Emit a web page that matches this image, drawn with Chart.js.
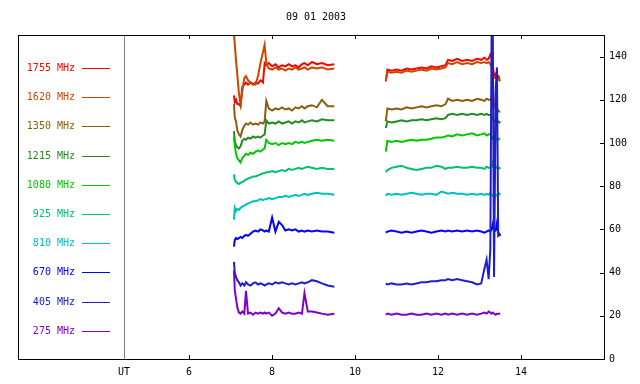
<!DOCTYPE html>
<html>
<head>
<meta charset="utf-8">
<script src="https://cdn.jsdelivr.net/npm/chart.js@4/dist/chart.umd.min.js"></script>
<style>
  html, body { margin: 0; padding: 0; background: #fff; }
  canvas { display: block; }
</style>
</head>
<body>
<canvas id="grafico" width="640" height="384"></canvas>
<script>
const title = '09 01 2003';
const bands = ['1755 MHz', '1620 MHz', '1350 MHz', '1215 MHz', '1080 MHz', '925 MHz', '810 MHz', '670 MHz', '405 MHz', '275 MHz'];
const xTicks = [6, 8, 10, 12, 14];
const yTicks = [0, 20, 40, 60, 80, 100, 120, 140];

// UT hours, morning and afternoon pieces
const utA = [7.08, 7.10, 7.13, 7.16, 7.20, 7.24, 7.28, 7.33, 7.37, 7.42, 7.48, 7.54, 7.60, 7.66, 7.72, 7.78, 7.82, 7.86, 7.92, 8.00,
             8.08, 8.16, 8.24, 8.32, 8.40, 8.48, 8.56, 8.64, 8.72, 8.78, 8.86, 8.96, 9.08, 9.20, 9.34, 9.50];
const utB = [10.74, 10.78, 10.88, 11.00, 11.12, 11.24, 11.36, 11.48, 11.60, 11.72, 11.84, 11.96, 12.08, 12.18, 12.24, 12.34, 12.46,
             12.58, 12.70, 12.82, 12.94, 13.04, 13.12, 13.17, 13.22, 13.26, 13.29, 13.32, 13.35, 13.39, 13.42, 13.45, 13.48, 13.50];

const mhz1755A = [122, 119, 120, 118, 118, 117, 126, 127, 128, 127, 128, 127, 128, 127.5, 129, 128, 137, 136, 137, 135.5,
                  136.5, 135, 136, 135.5, 136.5, 135.5, 136, 135, 136.5, 137, 136, 137.5, 136.5, 137, 136, 136.5];
const mhz1755B = [128.5, 134, 133.5, 134, 133.5, 134.5, 134, 134.5, 135, 134.5, 135.5, 135, 135.5, 136, 138.5, 138, 139,
                  138, 138.5, 138, 139, 138.5, 139.5, 138.5, 139, 141, 140, 136, 131, 132, 130.5, 131, 130, 130];
const mhz1620A = [150, 146, 138, 132, 123, 118, 124, 130, 131, 129, 128, 127.5, 127, 131, 137, 142, 145.5, 137, 134.5, 134,
                  135, 134, 134.5, 133.5, 134.5, 134, 135, 134, 134.5, 135, 134, 135, 134.5, 135, 134, 134.5];
const mhz1620B = [129, 133, 132.5, 133, 132.5, 133.5, 133, 133.5, 134, 133.5, 134.5, 134, 134.5, 135, 137, 136.5, 137.5,
                  136.5, 137, 136.5, 137.5, 137, 137.5, 137, 137.5, 136.5, 135, 131, 130, 130.5, 129.5, 130, 129, 129.5];
const mhz1350A = [118, 112, 110, 106, 104, 103, 106, 108, 109, 108.5, 109.5, 108.5, 109, 108.5, 109.5, 109, 110, 119.5, 116, 115,
                  116, 115.5, 116.5, 115.5, 116, 115, 116.5, 116, 117, 116, 117, 117.5, 116.5, 120, 117, 117];
const mhz1350B = [110, 116, 115.5, 116, 115.5, 116.5, 116, 116.5, 117, 116.5, 117, 117.5, 117, 118, 120.5, 119.5, 120,
                  119.5, 120, 119.5, 120.5, 120, 119.5, 120.5, 120, 120, 121, 126, 117, 116, 116, 115, 114.5, 114.5];
const mhz1215A = [105.5, 101, 99, 98, 97.5, 98.5, 101, 102, 101.5, 102.5, 102, 103, 102.5, 103, 102.5, 103.5, 104, 110.5, 109, 109.5,
                  109, 110, 109, 109.5, 110, 109, 110, 109.5, 110.5, 109.5, 110, 110.5, 110, 111, 110.5, 110.5];
const mhz1215B = [107, 110, 109.5, 110, 110.5, 110, 110.5, 110.5, 111, 110.5, 111, 111.5, 111, 111.5, 113, 113.5, 113,
                  113.5, 113, 113.5, 113, 113.5, 113, 113.5, 113, 113, 112, 111, 110.5, 110, 109.5, 110, 109.5, 110];
const mhz1080A = [103, 99, 95, 93, 92, 91, 93, 94, 95, 94.5, 95.5, 95, 96, 96.5, 96, 97, 97.5, 101.5, 100, 99.5,
                  100, 99, 100, 99.5, 100, 99.5, 100.5, 100, 100.5, 100, 100.5, 101, 101.5, 101, 101.5, 101];
const mhz1080B = [96, 101, 100.5, 101, 100.5, 101, 101.5, 101, 101.5, 101.5, 102, 102.5, 102.5, 103, 103.5, 103, 104,
                  103.5, 104, 104.5, 103.5, 104, 104.5, 103.5, 104, 104, 103, 102, 102.5, 101.5, 102, 101.5, 102, 102];
const mhz925A = [85.5, 83, 82, 81.5, 81, 81.5, 82, 82.5, 83, 83.5, 84, 84.5, 84.5, 85, 85.5, 86, 86, 86.5, 86.5, 87,
                 86.5, 87, 87.5, 87, 88, 87.5, 88, 88.5, 88, 88.5, 89, 88.5, 88, 88.5, 88, 88];
const mhz925B = [86.5, 87.5, 88.5, 89, 89.5, 88.5, 88, 87.5, 88, 88.5, 88.5, 89.5, 89, 88, 88.5, 88.5, 89,
                 88.5, 88.5, 89, 88.5, 88.5, 88, 89, 88.5, 88.5, 89, 91, 88, 88.5, 89, 88, 88.5, 88];
const mhz810A = [64.5, 70, 68.5, 69.5, 69, 70, 70.5, 71, 71.5, 72, 72.5, 73, 73, 73.5, 74, 73.5, 74, 74, 74.5, 74,
                 74.5, 75, 75, 75.5, 75, 75.5, 76, 75.5, 76, 76.5, 76, 76.5, 77, 76.5, 76.5, 76];
const mhz810B = [75.5, 76.5, 76, 76.5, 76, 76.5, 77, 76.5, 76, 76.5, 76.5, 76, 77.5, 77, 76.5, 77, 76.5,
                 76.5, 76, 76.5, 76, 76.5, 76, 76.5, 76, 77, 76, 75.5, 76, 75.5, 76, 76, 76.5, 76];
const mhz670A = [52, 55, 56, 55.5, 56, 56.5, 56, 57, 57.5, 57, 58, 59, 59.5, 59, 60, 59.5, 59, 59.5, 59, 65.5,
                 59, 63.5, 62, 59.5, 60, 59.5, 60, 59, 59.5, 59, 59.5, 59, 59.5, 59, 59, 58.5];
const mhz670B = [58.5, 59, 59.5, 59, 58.5, 59, 58.5, 59, 59.5, 59, 58.5, 59, 59.5, 59, 59.5, 59, 59.5,
                 59, 59.5, 59, 59.5, 59, 58.5, 59, 59.5, 59, 60, 62.5, 59, 59.5, 63, 58.5, 58, 57];
const mhz405A = [45, 40, 38, 36.5, 35.5, 34, 35, 34, 35.5, 34.5, 34, 35, 35.5, 34.5, 35, 34.5, 34, 34.5, 35, 34.5,
                 35.5, 35, 35.5, 35, 34.5, 35, 34.5, 35, 35.5, 35, 35.5, 36.5, 36, 35, 34, 33.5];
const mhz405B = [35, 34.5, 35, 34.5, 34.5, 35, 34.5, 35, 35.5, 35.5, 36, 36, 36.5, 36.5, 37, 36.5, 37,
                 36.5, 36, 35.5, 34.5, 35, 42, 46, 37, 51, 150, 150, 38, 125, 135, 57, 57.5, 57];
const mhz275A = [41, 32, 28, 24, 21.5, 21, 22, 21, 31.5, 21, 21.5, 20.5, 21.5, 21, 21.5, 21, 21.5, 21, 21.5, 20,
                 21, 23.5, 21.5, 21, 21.5, 21, 21, 21.5, 21, 30.5, 22, 22, 21.5, 21, 20.5, 21];
const mhz275B = [20.5, 21, 20.5, 21, 20.5, 20.5, 21, 20.5, 20.5, 21, 20.5, 21, 20.5, 21, 20.5, 21, 20.5,
                 21, 20.5, 21, 20.5, 21, 21.5, 21, 22, 21.5, 21, 21.5, 21, 20.5, 21, 21, 21, 21];

const seriesA = [mhz1755A, mhz1620A, mhz1350A, mhz1215A, mhz1080A, mhz925A, mhz810A, mhz670A, mhz405A, mhz275A];
const seriesB = [mhz1755B, mhz1620B, mhz1350B, mhz1215B, mhz1080B, mhz925B, mhz810B, mhz670B, mhz405B, mhz275B];

const colors = ['#ff0000', '#c84800', '#8b5e0b', '#228b22', '#00c800', '#00c070', '#00c0c0', '#0000ff', '#2020c8', '#8000c8'];
const fonte = { family: 'DejaVu Sans Mono', size: 10 };

// two pieces joined by a null so the line breaks in the gap
function montaPontos(a, b) {
  return utA.map((t, i) => ({ x: t, y: a[i] }))
    .concat([{ x: 10.1, y: null }])
    .concat(utB.map((t, i) => ({ x: t, y: b[i] })));
}

const datasets = bands.map((nome, i) => ({
  label: nome,
  data: montaPontos(seriesA[i], seriesB[i]),
  borderColor: colors[i],
  borderWidth: 2,
  pointRadius: 0,
  tension: 0,
  spanGaps: false,
  order: bands.length - i
}));

// frame, inward ticks, legend column and title
const moldura = {
  id: 'moldura',
  afterDraw(chart) {
    const { ctx, chartArea: a, scales: { x, y } } = chart;
    const painel = a.left - 106;
    ctx.save();
    ctx.lineWidth = 1;
    ctx.strokeStyle = '#808080';
    ctx.beginPath();
    ctx.moveTo(a.left + 0.5, a.top);
    ctx.lineTo(a.left + 0.5, a.bottom);
    ctx.stroke();

    ctx.strokeStyle = '#000';
    ctx.strokeRect(painel + 0.5, a.top + 0.5, a.right - painel, a.bottom - a.top);
    ctx.beginPath();
    xTicks.forEach(v => {
      const px = Math.round(x.getPixelForValue(v)) + 0.5;
      ctx.moveTo(px, a.bottom); ctx.lineTo(px, a.bottom - 4);
      ctx.moveTo(px, a.top); ctx.lineTo(px, a.top + 4);
    });
    yTicks.forEach(v => {
      const py = Math.round(y.getPixelForValue(v)) + 0.5;
      ctx.moveTo(a.right, py); ctx.lineTo(a.right - 4, py);
    });
    ctx.stroke();

    ctx.font = '10px "DejaVu Sans Mono"';
    ctx.textAlign = 'right';
    ctx.textBaseline = 'middle';
    bands.forEach((nome, i) => {
      const ly = Math.round(a.top + 33 + i * 29.2) + 0.5;
      ctx.fillStyle = colors[i];
      ctx.strokeStyle = colors[i];
      ctx.fillText(nome, a.left - 49, ly);
      ctx.beginPath();
      ctx.moveTo(a.left - 42, ly);
      ctx.lineTo(a.left - 14, ly);
      ctx.stroke();
    });

    ctx.fillStyle = '#000';
    ctx.textAlign = 'center';
    ctx.fillText(title, 316, 17);
    ctx.restore();
  }
};

new Chart(document.getElementById('grafico'), {
  type: 'line',
  data: { datasets },
  options: {
    responsive: false,
    animation: false,
    layout: { padding: { left: 124, top: 35, right: 0, bottom: 0 } },
    plugins: { legend: { display: false }, tooltip: { enabled: false } },
    scales: {
      x: {
        type: 'linear',
        min: 4.43,
        max: 16,
        grid: { display: false, drawTicks: false, tickLength: 0 },
        border: { display: false },
        afterBuildTicks: s => { s.ticks = [{ value: 4.43 }].concat(xTicks.map(v => ({ value: v }))); },
        afterFit: s => { s.height = 25; },
        ticks: {
          font: fonte,
          color: '#000',
          padding: 7,
          maxRotation: 0,
          autoSkip: false,
          callback: v => (v < 5 ? 'UT' : String(v))
        }
      },
      y: {
        position: 'right',
        min: 0,
        max: 150,
        grid: { display: false, drawTicks: false, tickLength: 0 },
        border: { display: false },
        afterBuildTicks: s => { s.ticks = yTicks.map(v => ({ value: v })); },
        afterFit: s => { s.width = 36; },
        ticks: { font: fonte, color: '#000', padding: 5 }
      }
    }
  },
  plugins: [moldura]
});
</script>
</body>
</html>
